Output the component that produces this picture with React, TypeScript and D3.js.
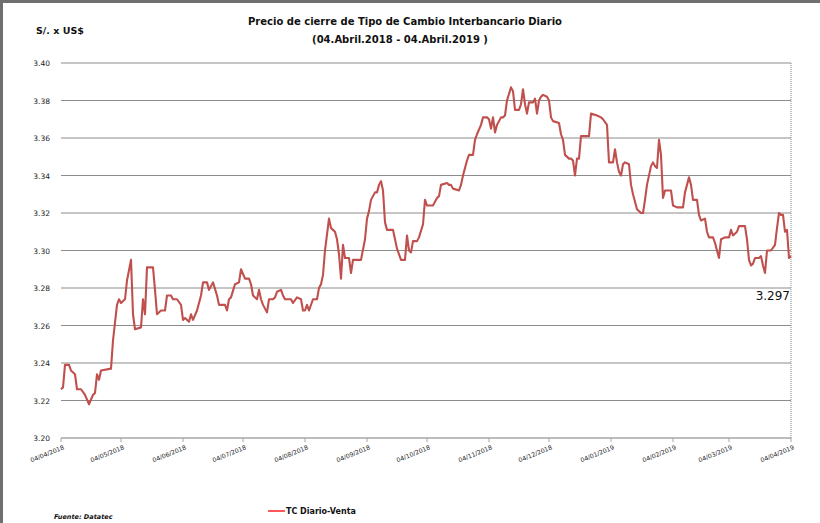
import React from "react";
import * as d3 from "d3";

const dates: string[] = [
  "2018-04-04","2018-04-05","2018-04-06","2018-04-08","2018-04-09","2018-04-11","2018-04-12","2018-04-14","2018-04-16","2018-04-18",
  "2018-04-20","2018-04-21","2018-04-22","2018-04-23","2018-04-24","2018-04-29","2018-04-30","2018-05-02","2018-05-03","2018-05-04",
  "2018-05-06","2018-05-07","2018-05-09","2018-05-10","2018-05-11","2018-05-14","2018-05-15","2018-05-16","2018-05-17","2018-05-20",
  "2018-05-21","2018-05-22","2018-05-24","2018-05-26","2018-05-27","2018-05-29","2018-05-30","2018-06-01","2018-06-03","2018-06-04",
  "2018-06-05","2018-06-07","2018-06-08","2018-06-09","2018-06-11","2018-06-13","2018-06-14","2018-06-16","2018-06-17","2018-06-19",
  "2018-06-21","2018-06-22","2018-06-25","2018-06-26","2018-06-27","2018-06-28","2018-06-30","2018-07-02","2018-07-03","2018-07-05",
  "2018-07-07","2018-07-08","2018-07-09","2018-07-11","2018-07-12","2018-07-13","2018-07-14","2018-07-16","2018-07-17","2018-07-19",
  "2018-07-20","2018-07-21","2018-07-23","2018-07-24","2018-07-25","2018-07-28","2018-07-29","2018-07-31","2018-08-02","2018-08-03",
  "2018-08-04","2018-08-05","2018-08-06","2018-08-08","2018-08-10","2018-08-11","2018-08-12","2018-08-13","2018-08-14","2018-08-16",
  "2018-08-17","2018-08-18","2018-08-19","2018-08-20","2018-08-21","2018-08-22","2018-08-23","2018-08-24","2018-08-26","2018-08-27",
  "2018-08-28","2018-09-01","2018-09-03","2018-09-04","2018-09-05","2018-09-06","2018-09-08","2018-09-09","2018-09-10","2018-09-11",
  "2018-09-12","2018-09-13","2018-09-14","2018-09-17","2018-09-18","2018-09-19","2018-09-21","2018-09-23","2018-09-24","2018-09-25",
  "2018-09-26","2018-09-27","2018-09-29","2018-09-30","2018-10-02","2018-10-03","2018-10-04","2018-10-05","2018-10-07","2018-10-09",
  "2018-10-10","2018-10-11","2018-10-14","2018-10-15","2018-10-16","2018-10-17","2018-10-20","2018-10-21","2018-10-22","2018-10-24",
  "2018-10-25","2018-10-27","2018-10-28","2018-10-29","2018-10-31","2018-11-01","2018-11-03","2018-11-04","2018-11-05","2018-11-06",
  "2018-11-07","2018-11-08","2018-11-10","2018-11-11","2018-11-12","2018-11-13","2018-11-15","2018-11-16","2018-11-17","2018-11-19",
  "2018-11-20","2018-11-21","2018-11-22","2018-11-23","2018-11-24","2018-11-26","2018-11-27","2018-11-28","2018-11-29","2018-11-30",
  "2018-12-01","2018-12-03","2018-12-04","2018-12-05","2018-12-06","2018-12-09","2018-12-10","2018-12-11","2018-12-12","2018-12-14",
  "2018-12-15","2018-12-16","2018-12-17","2018-12-18","2018-12-19","2018-12-20","2018-12-24","2018-12-25","2018-12-28","2018-12-30",
  "2018-12-31","2019-01-02","2019-01-03","2019-01-05","2019-01-06","2019-01-07","2019-01-08","2019-01-09","2019-01-10","2019-01-11",
  "2019-01-13","2019-01-14","2019-01-15","2019-01-17","2019-01-19","2019-01-20","2019-01-21","2019-01-22","2019-01-24","2019-01-25",
  "2019-01-26","2019-01-27","2019-01-28","2019-01-29","2019-01-30","2019-01-31","2019-02-03","2019-02-04","2019-02-06","2019-02-09",
  "2019-02-10","2019-02-12","2019-02-13","2019-02-14","2019-02-16","2019-02-17","2019-02-18","2019-02-20","2019-02-21","2019-02-22",
  "2019-02-24","2019-02-25","2019-02-27","2019-02-28","2019-03-02","2019-03-04","2019-03-05","2019-03-06","2019-03-08","2019-03-09",
  "2019-03-12","2019-03-13","2019-03-14","2019-03-15","2019-03-16","2019-03-17","2019-03-19","2019-03-20","2019-03-21","2019-03-22",
  "2019-03-23","2019-03-25","2019-03-27","2019-03-28","2019-03-29","2019-03-30","2019-03-31","2019-04-01","2019-04-02","2019-04-03",
  "2019-04-04"
];

const tcVenta: number[] = [
  3.226,3.227,3.239,3.239,3.236,3.234,3.226,3.226,3.223,3.218,
  3.223,3.224,3.234,3.231,3.236,3.237,3.252,3.271,3.274,3.272,
  3.274,3.284,3.295,3.266,3.258,3.259,3.274,3.266,3.291,3.291,
  3.279,3.266,3.268,3.268,3.276,3.276,3.274,3.274,3.271,3.263,
  3.264,3.262,3.266,3.263,3.268,3.276,3.283,3.283,3.279,3.283,
  3.276,3.271,3.271,3.268,3.274,3.275,3.282,3.283,3.290,3.285,
  3.285,3.282,3.276,3.274,3.279,3.274,3.271,3.267,3.274,3.274,
  3.275,3.278,3.279,3.276,3.274,3.274,3.272,3.275,3.274,3.268,
  3.268,3.271,3.268,3.274,3.274,3.280,3.282,3.287,3.300,3.317,
  3.312,3.311,3.310,3.306,3.298,3.285,3.303,3.296,3.296,3.288,
  3.295,3.295,3.306,3.317,3.321,3.327,3.331,3.331,3.335,3.337,
  3.332,3.315,3.311,3.311,3.306,3.301,3.295,3.295,3.308,3.300,
  3.299,3.305,3.305,3.307,3.314,3.327,3.324,3.324,3.324,3.328,
  3.329,3.335,3.336,3.335,3.335,3.333,3.332,3.335,3.340,3.348,
  3.351,3.351,3.359,3.362,3.367,3.371,3.371,3.370,3.365,3.371,
  3.363,3.367,3.371,3.371,3.372,3.380,3.387,3.385,3.375,3.375,
  3.378,3.386,3.378,3.373,3.379,3.379,3.381,3.373,3.380,3.382,
  3.383,3.382,3.380,3.371,3.369,3.368,3.362,3.359,3.351,3.349,
  3.349,3.348,3.340,3.349,3.349,3.361,3.361,3.373,3.372,3.371,
  3.370,3.367,3.347,3.347,3.354,3.347,3.342,3.340,3.346,3.347,
  3.346,3.335,3.330,3.322,3.320,3.320,3.327,3.335,3.345,3.347,
  3.345,3.344,3.359,3.351,3.328,3.332,3.332,3.324,3.323,3.323,
  3.331,3.339,3.335,3.327,3.327,3.319,3.316,3.317,3.310,3.307,
  3.307,3.304,3.296,3.306,3.307,3.307,3.311,3.308,3.310,3.313,
  3.313,3.306,3.295,3.292,3.293,3.296,3.296,3.297,3.292,3.288,
  3.300,3.300,3.303,3.312,3.320,3.319,3.319,3.310,3.311,3.296,
  3.297
];

const yTicks: number[] = [3.2, 3.22, 3.24, 3.26, 3.28, 3.3, 3.32, 3.34, 3.36, 3.38, 3.4];
const xTickDates: string[] = [
  "2018-04-04","2018-05-04","2018-06-04","2018-07-04","2018-08-04","2018-09-04","2018-10-04",
  "2018-11-04","2018-12-04","2019-01-04","2019-02-04","2019-03-04","2019-04-04"
];

const title1 = "Precio de cierre de Tipo de Cambio Interbancario Diario";
const title2 = "(04.Abril.2018 - 04.Abril.2019 )";
const yUnit = "S/. x US$";
const seriesName = "TC Diario-Venta";
const source = "Fuente: Datatec";
const lastLabel = "3.297";

export default function App() {
  const W = 820, H = 523;
  const parse = d3.timeParse("%Y-%m-%d");
  const fmt = d3.timeFormat("%d/%m/%Y");
  const left = 61, right = 791, top = 63, bottom = 438;
  const x = d3.scaleTime().domain([parse(xTickDates[0])!, parse(xTickDates[xTickDates.length - 1])!]).range([left, right]);
  const y = d3.scaleLinear().domain([3.2, 3.4]).range([bottom, top]);
  const pts = dates.map((d, i) => [parse(d)!, tcVenta[i]] as [Date, number]);
  const line = d3.line<[Date, number]>().x(d => x(d[0])).y(d => y(d[1]));
  const lastPt = pts[pts.length - 1];
  const font = "'DejaVu Sans', Verdana, sans-serif";
  const red = "#C0504D";

  return (
    <svg width={W} height={H} style={{ position: "absolute", left: 0, top: 0, background: "#fff" }}>
      <defs>
        <filter id="blur" x="-5%" y="-300%" width="110%" height="700%">
          <feGaussianBlur stdDeviation="3" />
        </filter>
      </defs>
      <rect x={0} y={0} width={W} height={H} fill="#fff" />
      <rect x={0} y={0} width={W} height={3} fill="#6f6f6f" />
      <rect x={0} y={0} width={3} height={H} fill="#6f6f6f" />

      <text x={36} y={34} fontFamily={font} fontSize={9.5} fontWeight="bold" fill="#111">{yUnit}</text>
      <text x={405} y={25} textAnchor="middle" fontFamily={font} fontSize={10} fontWeight="bold" fill="#111">{title1}</text>
      <text x={400} y={43} textAnchor="middle" fontFamily={font} fontSize={10} fontWeight="bold" fill="#111">{title2}</text>

      {yTicks.map(t => (
        <g key={t}>
          {t > 3.2 && (
            <line x1={left + 2} x2={right + 8} y1={y(t) + 1} y2={y(t) + 1} stroke="#c4cde3" strokeWidth={6} opacity={0.55} filter="url(#blur)" />
          )}
          <line x1={left} x2={right} y1={y(t)} y2={y(t)} stroke={t === 3.2 ? "#a6a6a6" : "#8c8c8c"} strokeWidth={t === 3.2 ? 1.5 : 1} />
          <text x={50} y={y(t) + 3} textAnchor="end" fontFamily={font} fontSize={7.5} fill="#222">{t.toFixed(2)}</text>
        </g>
      ))}
      <line x1={right} x2={right} y1={top} y2={bottom} stroke="#888" strokeWidth={1} strokeDasharray="1,1" />

      {xTickDates.map(d => {
        const px = x(parse(d)!);
        return (
          <g key={d}>
            <line x1={px} x2={px} y1={bottom} y2={bottom + 4} stroke="#a6a6a6" strokeWidth={1} />
            <text transform={`translate(${px + 2},${bottom + 7}) rotate(-22)`} textAnchor="end" dy="0.7em" fontFamily={font} fontSize={6.2} fill="#222">{fmt(parse(d)!)}</text>
          </g>
        );
      })}

      <path d={line(pts) || ""} fill="none" stroke={red} strokeWidth={2.1} strokeLinejoin="round" />
      <text x={x(lastPt[0]) - 1} y={y(lastPt[1]) + 44} textAnchor="end" fontFamily={font} fontSize={12} fill="#111">{lastLabel}</text>

      <line x1={268} x2={285} y1={511} y2={511} stroke="#ff2020" strokeWidth={1.5} />
      <text x={286} y={514} fontFamily={font} fontSize={8} fontWeight="bold" fill="#111">{seriesName}</text>
      <text x={54} y={519} fontFamily={font} fontSize={6.5} fontWeight="bold" fontStyle="italic" fill="#111">{source}</text>
    </svg>
  );
}
